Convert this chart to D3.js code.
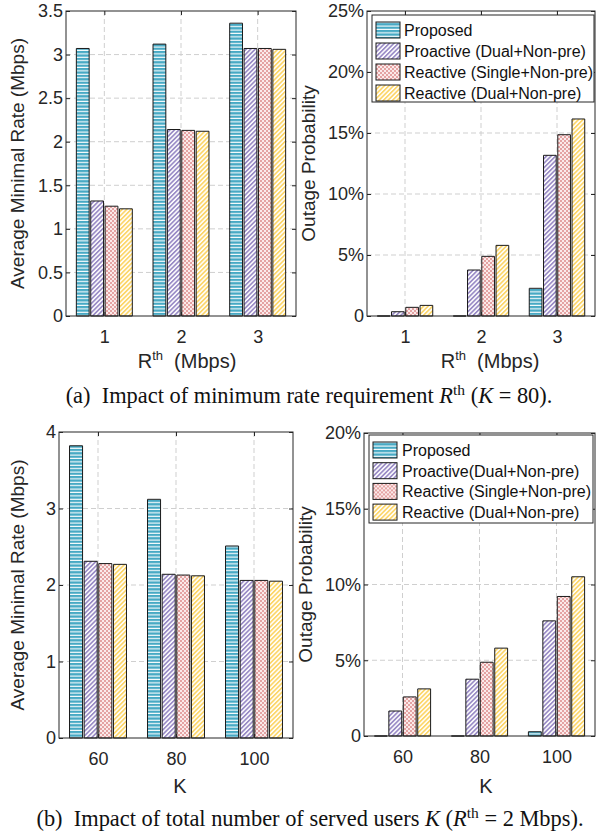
<!DOCTYPE html>
<html>
<head>
<meta charset="utf-8">
<script src="https://cdn.jsdelivr.net/npm/d3@7"></script>
<style>
  body { margin: 0; background: #fff; }
  svg { display: block; }
  text { white-space: pre; }
</style>
</head>
<body>
<div id="chart"></div>
<script>
// Series names (legend labels differ slightly between the two rows)
const seriesA = ['Proposed', 'Proactive (Dual+Non-pre)', 'Reactive (Single+Non-pre)', 'Reactive (Dual+Non-pre)'];
const seriesB = ['Proposed', 'Proactive(Dual+Non-pre)', 'Reactive (Single+Non-pre)', 'Reactive (Dual+Non-pre)'];

// Categories
const rthCats = ['1', '2', '3'];
const kCats = ['60', '80', '100'];

// (a) values per series, one entry per R^th category
const rateByRth = [
  [3.07, 3.12, 3.36],
  [1.32, 2.14, 3.07],
  [1.26, 2.13, 3.07],
  [1.23, 2.12, 3.06]
];
const outageByRth = [
  [0.0, 0.0, 2.27],
  [0.35, 3.77, 13.17],
  [0.71, 4.89, 14.86],
  [0.87, 5.79, 16.15]
];

// (b) values per series, one entry per K category
const rateByK = [
  [3.82, 3.12, 2.51],
  [2.31, 2.14, 2.06],
  [2.28, 2.13, 2.06],
  [2.27, 2.12, 2.05]
];
const outageByK = [
  [0.0, 0.0, 0.28],
  [1.65, 3.75, 7.6],
  [2.58, 4.87, 9.21],
  [3.11, 5.80, 10.51]
];

// Tick values
const rateTicksA = [0, 0.5, 1, 1.5, 2, 2.5, 3, 3.5];
const outageTicksA = [0, 5, 10, 15, 20, 25];
const rateTicksB = [0, 1, 2, 3, 4];
const outageTicksB = [0, 5, 10, 15, 20];

const W = 596, H = 834;
const ink = '#262626';
const sans = '"Liberation Sans", Arial, Helvetica, sans-serif';
const serif = '"Liberation Serif", "Times New Roman", serif';

const svg = d3.select('#chart').append('svg')
  .attr('width', W)
  .attr('height', H)
  .attr('viewBox', `0 0 ${W} ${H}`);

// Hatch patterns
const defs = svg.append('defs');

const pBlue = defs.append('pattern').attr('id', 'hatch0')
  .attr('patternUnits', 'userSpaceOnUse').attr('width', 4).attr('height', 3.4);
pBlue.append('rect').attr('width', 4).attr('height', 3.4).attr('fill', '#ffffff');
pBlue.append('rect').attr('width', 4).attr('height', 2.3).attr('fill', '#47a9c4');

function diagonal(id, color) {
  const p = defs.append('pattern').attr('id', id)
    .attr('patternUnits', 'userSpaceOnUse').attr('width', 3.2).attr('height', 3.2)
    .attr('patternTransform', 'rotate(45)');
  p.append('rect').attr('width', 3.2).attr('height', 3.2).attr('fill', '#ffffff');
  p.append('rect').attr('width', 1.7).attr('height', 3.2).attr('fill', color);
}
diagonal('hatch1', '#9a8cc6');
diagonal('hatch3', '#fcd66a');

const pPink = defs.append('pattern').attr('id', 'hatch2')
  .attr('patternUnits', 'userSpaceOnUse').attr('width', 4).attr('height', 4);
pPink.append('rect').attr('width', 4).attr('height', 4).attr('fill', '#fbeaea');
pPink.append('rect').attr('width', 2).attr('height', 2).attr('fill', '#e4a3a3');
pPink.append('rect').attr('x', 2).attr('y', 2).attr('width', 2).attr('height', 2).attr('fill', '#e4a3a3');

const fills = ['url(#hatch0)', 'url(#hatch1)', 'url(#hatch2)', 'url(#hatch3)'];

// Draw one bar panel
function panel(o) {
  const g = svg.append('g');

  const x = d3.scaleLinear().domain([0.5, o.cats.length + 0.5]).range([o.left, o.right]);
  const y = d3.scaleLinear().domain([0, o.yMax]).range([o.bottom, o.top]);
  const inner = d3.scaleBand().domain(d3.range(o.values.length))
    .range([-0.365, 0.365]).paddingInner(0.11);

  // Dashed grid
  const grid = g.append('g')
    .attr('stroke', '#cfcfcf').attr('stroke-width', 1).attr('stroke-dasharray', '5,3');
  grid.selectAll('.gx').data(o.cats).enter().append('line')
    .attr('x1', (d, i) => x(i + 1)).attr('x2', (d, i) => x(i + 1))
    .attr('y1', o.top).attr('y2', o.bottom);
  grid.selectAll('.gy').data(o.yTicks.slice(1, -1)).enter().append('line')
    .attr('x1', o.left).attr('x2', o.right)
    .attr('y1', d => y(d)).attr('y2', d => y(d));

  // Bars
  o.values.forEach((vals, s) => {
    g.append('g').selectAll('path').data(vals).enter().append('path')
      .attr('d', (v, i) => {
        const x0 = x(i + 1 + inner(s));
        const x1 = x(i + 1 + inner(s) + inner.bandwidth());
        return `M${x0},${y(0)}V${y(v)}H${x1}V${y(0)}Z`;
      })
      .attr('fill', fills[s])
      .attr('stroke', '#1a1a1a')
      .attr('stroke-width', 1);
  });

  // Box and inward ticks
  g.append('rect')
    .attr('x', o.left).attr('y', o.top)
    .attr('width', o.right - o.left).attr('height', o.bottom - o.top)
    .attr('fill', 'none').attr('stroke', ink).attr('stroke-width', 1);

  const yAxis = d3.axisLeft(y).tickValues(o.yTicks).tickSize(-4).tickFormat(o.fmt).tickPadding(3);
  const ya = g.append('g').attr('transform', `translate(${o.left},0)`).call(yAxis);
  const yr = g.append('g').attr('transform', `translate(${o.right},0)`)
    .call(d3.axisRight(y).tickValues(o.yTicks).tickSize(-4).tickFormat(''));
  const xAxis = d3.axisBottom(x).tickValues(o.cats.map((d, i) => i + 1))
    .tickSize(-4).tickFormat((d, i) => o.cats[i]).tickPadding(14);
  const xa = g.append('g').attr('transform', `translate(0,${o.bottom})`).call(xAxis);
  const xt = g.append('g').attr('transform', `translate(0,${o.top})`)
    .call(d3.axisTop(x).tickValues(o.cats.map((d, i) => i + 1)).tickSize(-4).tickFormat(''));

  [ya, yr, xa, xt].forEach(a => {
    a.select('.domain').remove();
    a.selectAll('line').attr('stroke', ink);
    a.selectAll('text').attr('fill', ink).style('font-family', sans).style('font-size', '18px');
  });

  // Axis labels
  g.append('text')
    .attr('transform', `translate(${o.ylabelX},${(o.top + o.bottom) / 2}) rotate(-90)`)
    .attr('text-anchor', 'middle')
    .attr('fill', ink)
    .style('font-family', sans).style('font-size', '19px')
    .text(o.ylabel);

  const xl = g.append('text')
    .attr('x', o.xlabelX).attr('y', o.xlabelY)
    .attr('text-anchor', 'middle')
    .attr('fill', ink)
    .style('font-family', sans).style('font-size', '20px');
  if (o.xlabel === 'R') {
    xl.append('tspan').text('R');
    xl.append('tspan').attr('dy', -8).style('font-size', '13px').text('th');
    xl.append('tspan').attr('dy', 8).text('  (Mbps)');
  } else {
    xl.text(o.xlabel);
  }

  // Legend
  if (o.legend) {
    const L = o.legend;
    const lg = g.append('g');
    lg.append('rect')
      .attr('x', L.x).attr('y', L.y).attr('width', L.w).attr('height', L.h)
      .attr('fill', '#fff').attr('stroke', ink).attr('stroke-width', 1);
    const rows = lg.selectAll('.row').data(L.names).enter().append('g')
      .attr('transform', (d, i) => `translate(${L.x + 4},${L.y + 15 + i * L.step})`);
    rows.append('rect')
      .attr('x', 0).attr('y', -8).attr('width', 24).attr('height', 16)
      .attr('fill', (d, i) => fills[i]).attr('stroke', '#1a1a1a').attr('stroke-width', 1);
    rows.append('text')
      .attr('x', L.tx).attr('y', 6)
      .attr('fill', '#111')
      .style('font-family', sans).style('font-size', '16px')
      .text(d => d);
  }
}

const pct = d => d === 0 ? '0' : d + '%';

panel({
  left: 66, right: 296, top: 11, bottom: 316,
  cats: rthCats, values: rateByRth, yMax: 3.5, yTicks: rateTicksA, fmt: d => d,
  ylabel: 'Average Minimal Rate (Mbps)', ylabelX: 24,
  xlabel: 'R', xlabelX: 187, xlabelY: 368
});
panel({
  left: 367, right: 595, top: 11, bottom: 316,
  cats: rthCats, values: outageByRth, yMax: 25, yTicks: outageTicksA, fmt: pct,
  ylabel: 'Outage Probability', ylabelX: 315,
  xlabel: 'R', xlabelX: 490, xlabelY: 368,
  legend: { x: 372, y: 15, w: 222, h: 87, step: 21, tx: 28, names: seriesA }
});
panel({
  left: 59, right: 293, top: 432, bottom: 738,
  cats: kCats, values: rateByK, yMax: 4, yTicks: rateTicksB, fmt: d => d,
  ylabel: 'Average Minimal Rate (Mbps)', ylabelX: 24,
  xlabel: 'K', xlabelX: 180, xlabelY: 793
});
panel({
  left: 364, right: 595, top: 433, bottom: 736,
  cats: kCats, values: outageByK, yMax: 20, yTicks: outageTicksB, fmt: pct,
  ylabel: 'Outage Probability', ylabelX: 312,
  xlabel: 'K', xlabelX: 486, xlabelY: 793,
  legend: { x: 369, y: 435, w: 224, h: 88, step: 20.7, tx: 29, names: seriesB }
});

// Captions
function caption(yPos, cx, parts) {
  const t = svg.append('text')
    .attr('x', cx).attr('y', yPos)
    .attr('text-anchor', 'middle')
    .attr('fill', '#111')
    .style('font-family', serif).style('font-size', '22.4px');
  parts.forEach(p => {
    const s = t.append('tspan').text(p.t);
    if (p.i) s.style('font-style', 'italic');
    if (p.dy) s.attr('dy', p.dy);
    if (p.sz) s.style('font-size', p.sz);
  });
}

caption(403, 309, [
  { t: '(a)  Impact of minimum rate requirement ' },
  { t: 'R', i: true },
  { t: 'th', dy: -8, sz: '15.5px' },
  { t: ' (', dy: 8 },
  { t: 'K', i: true },
  { t: ' = 80).' }
]);
caption(826, 310, [
  { t: '(b)  Impact of total number of served users ' },
  { t: 'K', i: true },
  { t: ' (' },
  { t: 'R', i: true },
  { t: 'th', dy: -8, sz: '15.5px' },
  { t: ' = 2 Mbps).', dy: 8 }
]);
</script>
</body>
</html>
